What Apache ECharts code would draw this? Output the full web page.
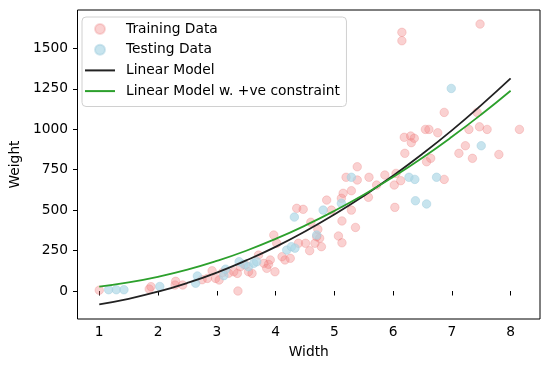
<!DOCTYPE html>
<html>
<head>
<meta charset="utf-8">
<script src="https://cdn.jsdelivr.net/npm/echarts@6/dist/echarts.min.js"></script>
<style>
html,body{margin:0;padding:0;background:#fff;}
#chart{width:550px;height:372px;}
</style>
</head>
<body>
<div id="chart"></div>
<script>
const trainWidth = [1.00,1.85,1.88,2.29,2.30,2.42,2.75,2.84,2.92,2.98,3.04,3.10,3.20,3.29,3.35,3.36,3.40,3.49,3.54,3.60,3.71,3.80,3.85,3.88,3.91,3.97,3.99,4.02,4.11,4.16,4.25,4.36,4.39,4.47,4.51,4.58,4.60,4.67,4.70,4.72,4.75,4.78,4.87,4.95,5.07,5.12,5.13,5.13,5.15,5.20,5.29,5.29,5.36,5.39,5.39,5.58,5.59,5.72,5.86,6.02,6.03,6.05,6.13,6.15,6.15,6.19,6.20,6.30,6.31,6.36,6.55,6.57,6.61,6.64,6.76,6.87,6.87,7.12,7.23,7.29,7.35,7.43,7.47,7.48,7.60,7.80,8.15];
const trainWeight = [5,12,27,37,60,37,70,78,125,78,68,115,110,119,109,0,150,161,119,109,222,171,140,165,192,346,119,295,212,192,202,511,295,505,295,249,425,295,336,381,326,274,562,500,340,573,298,433,604,703,620,500,393,686,768,579,703,655,717,655,517,727,682,1599,1547,950,851,958,917,944,999,799,999,820,978,1104,690,851,898,999,820,1104,1015,1650,999,844,999];
const testWidth = [1.16,1.29,1.42,2.03,2.64,2.67,3.12,3.15,3.38,3.46,3.54,3.63,3.68,4.19,4.27,4.33,4.32,4.70,4.81,5.12,5.29,6.27,6.37,6.38,6.57,6.74,6.99,7.50];
const testWeight = [8,8,8,28,48,93,95,135,181,165,150,171,181,253,274,265,457,346,500,542,703,703,690,558,538,703,1252,898];
const modelWidth = [1,1.5,2,2.5,3,3.5,4,4.5,5,5.5,6,6.5,7,7.5,8];
const linearModel = [-82,-48,-4,50,114,189,273,368,473,588,713,848,993,1149,1314];
const positiveModel = [27,53,88,132,186,249,322,404,495,595,705,824,953,1091,1238];
const xTicks = [1,2,3,4,5,6,7,8];
const yTicks = [0,250,500,750,1000,1250,1500];

const zip = (a, b) => a.map((v, i) => [v, b[i]]);
const FONT = 'DejaVu Sans';
const FS = 13.8;
const LINE_ICON = 'path://M0,0h30v2h-30z';

const chart = echarts.init(document.getElementById('chart'), null, {renderer: 'canvas'});
chart.setOption({
  animation: false,
  textStyle: {fontFamily: FONT},
  grid: {
    left: 74, right: 10, top: 10, bottom: 53,
    show: true, borderColor: '#000', borderWidth: 1, backgroundColor: 'transparent'
  },
  legend: {
    orient: 'vertical',
    left: 82, top: 17,
    padding: [5, 6.5, 8.4, 3],
    itemWidth: 30, itemHeight: 10, itemGap: 6.7,
    symbolKeepAspect: true,
    backgroundColor: 'rgba(255,255,255,0.8)',
    borderColor: '#d0d0d0', borderWidth: 1, borderRadius: 4,
    textStyle: {fontFamily: FONT, fontSize: FS, color: '#000', padding: [0, 0, 0, 6]},
    data: [
      {name: 'Training Data', icon: 'circle'},
      {name: 'Testing Data', icon: 'circle'},
      {name: 'Linear Model', icon: LINE_ICON},
      {name: 'Linear Model w. +ve constraint', icon: LINE_ICON}
    ]
  },
  xAxis: {
    type: 'value', min: 0.63, max: 8.5,
    name: 'Width', nameLocation: 'middle', nameGap: 26,
    nameTextStyle: {fontFamily: FONT, fontSize: FS, color: '#000'},
    axisLine: {show: false},
    axisTick: {show: true, length: 4.5, lineStyle: {color: '#000', width: 1}, customValues: xTicks},
    axisLabel: {fontFamily: FONT, fontSize: FS, color: '#000', margin: 6.5, customValues: xTicks,
      formatter: v => String(v)},
    splitLine: {show: false}
  },
  yAxis: {
    type: 'value', min: -173, max: 1737,
    name: 'Weight', nameLocation: 'middle', nameGap: 52,
    nameTextStyle: {fontFamily: FONT, fontSize: FS, color: '#000'},
    axisLine: {show: false},
    axisTick: {show: true, length: 4.5, lineStyle: {color: '#000', width: 1}, customValues: yTicks},
    axisLabel: {fontFamily: FONT, fontSize: FS, color: '#000', margin: 9.5, customValues: yTicks,
      formatter: v => String(v)},
    splitLine: {show: false}
  },
  series: [
    {
      name: 'Training Data', type: 'scatter', symbol: 'circle', symbolSize: 8.5,
      data: zip(trainWidth, trainWeight),
      itemStyle: {color: 'rgba(240,128,128,0.45)', borderColor: 'rgba(235,120,120,0.35)', borderWidth: 1}
    },
    {
      name: 'Testing Data', type: 'scatter', symbol: 'circle', symbolSize: 8.5,
      data: zip(testWidth, testWeight),
      itemStyle: {color: 'rgba(173,216,230,0.85)', borderColor: 'rgba(160,205,222,0.6)', borderWidth: 1}
    },
    {
      name: 'Linear Model', type: 'line', symbol: 'none', smooth: true,
      data: zip(modelWidth, linearModel),
      itemStyle: {color: '#222'},
      lineStyle: {color: '#222', width: 1.8}
    },
    {
      name: 'Linear Model w. +ve constraint', type: 'line', symbol: 'none', smooth: true,
      data: zip(modelWidth, positiveModel),
      itemStyle: {color: '#2ca02c'},
      lineStyle: {color: '#2ca02c', width: 1.8}
    }
  ]
});
</script>
</body>
</html>
